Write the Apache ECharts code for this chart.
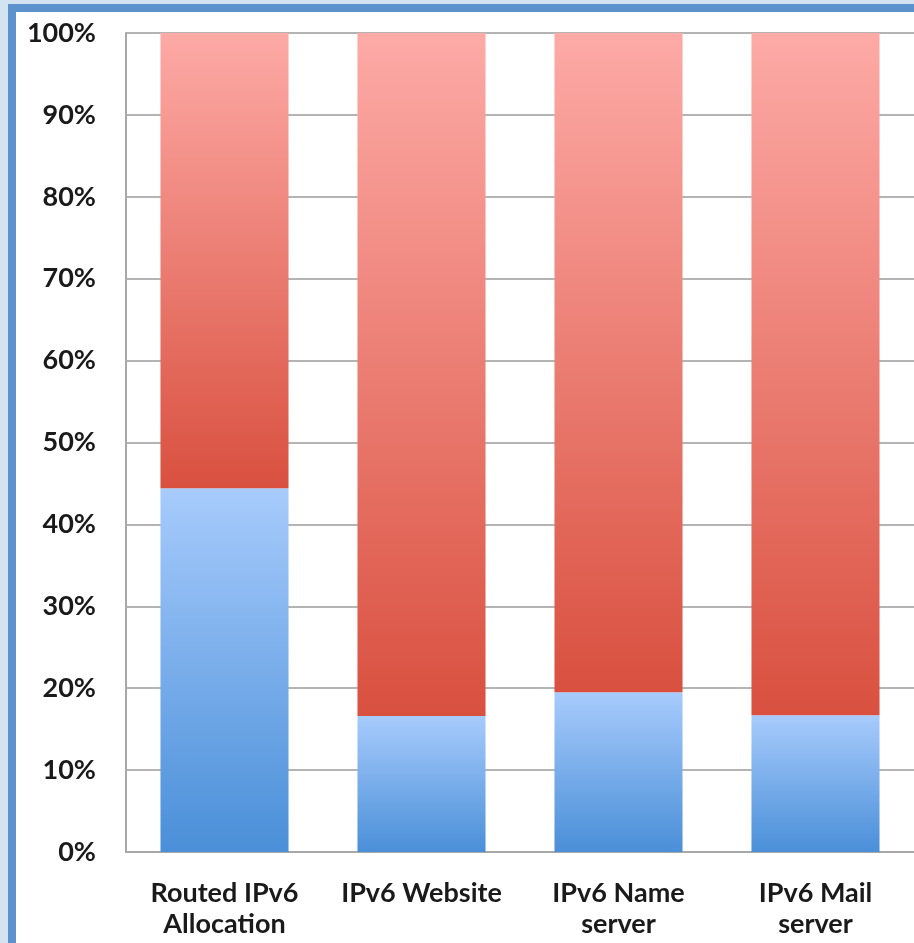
<!DOCTYPE html>
<html>
<head>
<meta charset="utf-8">
<script src="https://cdn.jsdelivr.net/npm/echarts@6/dist/echarts.min.js"></script>
<style>
  html, body { margin: 0; padding: 0; width: 914px; height: 943px; overflow: hidden; background: #d4e3f2; }
  #frame { position: absolute; left: 8px; top: 4px; width: 1000px; height: 1000px;
           border-left: 8px solid #5d92cc; border-top: 8px solid #5d92cc; background: #ffffff; }
  #chart { position: absolute; left: 0; top: 0; width: 914px; height: 943px; }
</style>
</head>
<body>
<div id="frame"></div>
<div id="chart"></div>
<script>
// Share of IPv6 readiness per category (percent)
const categories = ['Routed IPv6\nAllocation', 'IPv6 Website', 'IPv6 Name\nserver', 'IPv6 Mail\nserver'];
const ipv6Share = [44.4, 16.6, 19.5, 16.7];
const otherShare = [55.6, 83.4, 80.5, 83.3];
const yTicks = [0, 10, 20, 30, 40, 50, 60, 70, 80, 90, 100];

const chart = echarts.init(document.getElementById('chart'), null, { renderer: 'canvas' });

const labelFont = { fontFamily: 'Lato', fontWeight: 'bold', fontSize: 27, color: '#1a1a1a' };

function vGrad(top, bottom) {
  return new echarts.graphic.LinearGradient(0, 0, 0, 1, [
    { offset: 0, color: top },
    { offset: 1, color: bottom }
  ]);
}

chart.setOption({
  animation: false,
  grid: { left: 126, top: 33, right: 0, bottom: 91, containLabel: false },
  xAxis: {
    type: 'category',
    data: categories,
    axisLine: { show: true, lineStyle: { color: '#a8a8a8', width: 2 } },
    axisTick: { show: false },
    axisLabel: Object.assign({ interval: 0, margin: 26, lineHeight: 31, align: 'center' }, labelFont),
    splitLine: { show: false }
  },
  yAxis: {
    type: 'value',
    min: 0,
    max: 100,
    interval: 10,
    axisLine: { show: true, lineStyle: { color: '#a8a8a8', width: 2 } },
    axisTick: { show: false },
    axisLabel: Object.assign({
      margin: 30,
      formatter: function (v) { return yTicks.indexOf(v) >= 0 ? v + '%' : ''; }
    }, labelFont),
    splitLine: { show: true, lineStyle: { color: '#b4b4b4', width: 2 } }
  },
  series: [
    {
      name: 'IPv6',
      type: 'bar',
      stack: 'total',
      barWidth: '65%',
      data: ipv6Share,
      itemStyle: { color: vGrad('#a7cbfc', '#4a8fd8') }
    },
    {
      name: 'Other',
      type: 'bar',
      stack: 'total',
      barWidth: '65%',
      data: otherShare,
      itemStyle: { color: vGrad('#fdaaa6', '#d9503f') }
    }
  ]
});
</script>
</body>
</html>
